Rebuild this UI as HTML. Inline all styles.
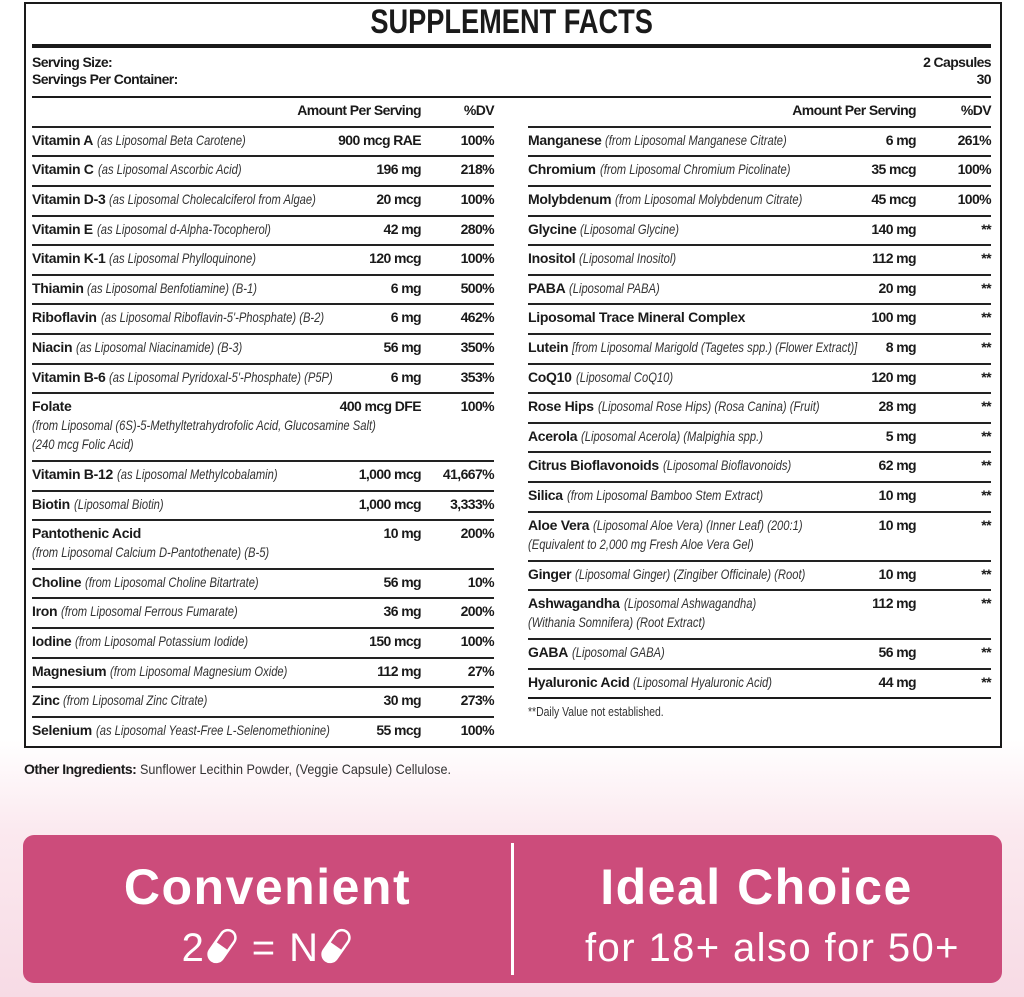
<!DOCTYPE html>
<html><head><meta charset="utf-8"><style>
*{margin:0;padding:0;box-sizing:border-box}
body{width:1024px;height:997px;position:relative;overflow:hidden;background:linear-gradient(to bottom,#fff 0px,#fff 740px,#fbe9ef 830px,#f7dbe5 997px);font-family:"Liberation Sans",sans-serif;color:#1a1a1a}
.box{position:absolute;left:24px;top:2px;width:978px;height:746px;border:2px solid #1a1a1a;background:#fff}
.t{position:absolute;left:0;width:1024px;top:3px;text-align:center;font-weight:bold;font-size:34px;}
.t span{display:inline-block;transform:scaleX(.8);}
.hl{position:absolute;left:32px;width:959px;background:#1a1a1a}
.s{position:absolute;font-size:14px;font-weight:bold;line-height:17px;letter-spacing:-0.6px}
.r{position:absolute;width:462px;border-top:2px solid #222;padding-top:3px;line-height:19px;font-size:14px;white-space:nowrap}
.L{left:32px}.R{left:528px;width:463px}
.r i{display:inline-block;vertical-align:top;font-style:italic;font-weight:normal;color:#333;transform:scaleX(.8);transform-origin:left top}
.r b{font-weight:bold;letter-spacing:-0.3px}
.a,.d{position:absolute;top:3px;font-weight:bold;letter-spacing:-0.6px}
.a{right:73px}.d{right:0}
.R .a{right:75px}
.ban{position:absolute;left:23px;top:835px;width:979px;height:148px;background:#cc4c7b;border-radius:11px;color:#fff;font-family:"Liberation Sans",sans-serif}
.vl{position:absolute;left:488px;top:8px;width:3px;height:132px;background:#fff}
.c1,.c2{position:absolute;width:489px;text-align:center}
.c1{left:0}.c2{left:489px}
.h{top:23px;font-size:50px;font-weight:bold;line-height:58px;letter-spacing:1.5px}
.sub{top:90px;font-size:40px;line-height:46px;letter-spacing:1.4px}
</style></head><body>
<div class="box"></div>
<div class="t"><span>SUPPLEMENT FACTS</span></div>
<div class="hl" style="top:44px;height:4px"></div>
<div class="s" style="left:32px;top:54px">Serving Size:<br>Servings Per Container:</div>
<div class="s" style="right:33px;top:54px;text-align:right">2 Capsules<br>30</div>
<div class="hl" style="top:96px;height:2px"></div>
<div class="s" style="left:32px;width:462px;top:102px;height:20px"><span style="position:absolute;right:73px">Amount Per Serving</span><span style="position:absolute;right:0">%DV</span></div>
<div class="s" style="left:528px;width:463px;top:102px;height:20px"><span style="position:absolute;right:75px">Amount Per Serving</span><span style="position:absolute;right:0">%DV</span></div>

<div class="r L" style="top:126px"><b>Vitamin A</b> <i>(as Liposomal Beta Carotene)</i><span class="a">900 mcg RAE</span><span class="d">100%</span></div>
<div class="r L" style="top:155px"><b>Vitamin C</b> <i>(as Liposomal Ascorbic Acid)</i><span class="a">196 mg</span><span class="d">218%</span></div>
<div class="r L" style="top:185px"><b>Vitamin D-3</b> <i>(as Liposomal Cholecalciferol from Algae)</i><span class="a">20 mcg</span><span class="d">100%</span></div>
<div class="r L" style="top:215px"><b>Vitamin E</b> <i>(as Liposomal d-Alpha-Tocopherol)</i><span class="a">42 mg</span><span class="d">280%</span></div>
<div class="r L" style="top:244px"><b>Vitamin K-1</b> <i>(as Liposomal Phylloquinone)</i><span class="a">120 mcg</span><span class="d">100%</span></div>
<div class="r L" style="top:274px"><b>Thiamin</b> <i>(as Liposomal Benfotiamine) (B-1)</i><span class="a">6 mg</span><span class="d">500%</span></div>
<div class="r L" style="top:303px"><b>Riboflavin</b> <i>(as Liposomal Riboflavin-5'-Phosphate) (B-2)</i><span class="a">6 mg</span><span class="d">462%</span></div>
<div class="r L" style="top:333px"><b>Niacin</b> <i>(as Liposomal Niacinamide) (B-3)</i><span class="a">56 mg</span><span class="d">350%</span></div>
<div class="r L" style="top:363px"><b>Vitamin B-6</b> <i>(as Liposomal Pyridoxal-5'-Phosphate) (P5P)</i><span class="a">6 mg</span><span class="d">353%</span></div>
<div class="r L" style="top:392px"><b>Folate</b><br><i>(from Liposomal (6S)-5-Methyltetrahydrofolic Acid, Glucosamine Salt)<br>(240 mcg Folic Acid)</i><span class="a">400 mcg DFE</span><span class="d">100%</span></div>
<div class="r L" style="top:460px"><b>Vitamin B-12</b> <i>(as Liposomal Methylcobalamin)</i><span class="a">1,000 mcg</span><span class="d">41,667%</span></div>
<div class="r L" style="top:490px"><b>Biotin</b> <i>(Liposomal Biotin)</i><span class="a">1,000 mcg</span><span class="d">3,333%</span></div>
<div class="r L" style="top:519px"><b>Pantothenic Acid</b><br><i>(from Liposomal Calcium D-Pantothenate) (B-5)</i><span class="a">10 mg</span><span class="d">200%</span></div>
<div class="r L" style="top:568px"><b>Choline</b> <i>(from Liposomal Choline Bitartrate)</i><span class="a">56 mg</span><span class="d">10%</span></div>
<div class="r L" style="top:597px"><b>Iron</b> <i>(from Liposomal Ferrous Fumarate)</i><span class="a">36 mg</span><span class="d">200%</span></div>
<div class="r L" style="top:627px"><b>Iodine</b> <i>(from Liposomal Potassium Iodide)</i><span class="a">150 mcg</span><span class="d">100%</span></div>
<div class="r L" style="top:657px"><b>Magnesium</b> <i>(from Liposomal Magnesium Oxide)</i><span class="a">112 mg</span><span class="d">27%</span></div>
<div class="r L" style="top:686px"><b>Zinc</b> <i>(from Liposomal Zinc Citrate)</i><span class="a">30 mg</span><span class="d">273%</span></div>
<div class="r L" style="top:716px"><b>Selenium</b> <i>(as Liposomal Yeast-Free L-Selenomethionine)</i><span class="a">55 mcg</span><span class="d">100%</span></div>

<div class="r R" style="top:126px"><b>Manganese</b> <i>(from Liposomal Manganese Citrate)</i><span class="a">6 mg</span><span class="d">261%</span></div>
<div class="r R" style="top:155px"><b>Chromium</b> <i>(from Liposomal Chromium Picolinate)</i><span class="a">35 mcg</span><span class="d">100%</span></div>
<div class="r R" style="top:185px"><b>Molybdenum</b> <i>(from Liposomal Molybdenum Citrate)</i><span class="a">45 mcg</span><span class="d">100%</span></div>
<div class="r R" style="top:215px"><b>Glycine</b> <i>(Liposomal Glycine)</i><span class="a">140 mg</span><span class="d">**</span></div>
<div class="r R" style="top:244px"><b>Inositol</b> <i>(Liposomal Inositol)</i><span class="a">112 mg</span><span class="d">**</span></div>
<div class="r R" style="top:274px"><b>PABA</b> <i>(Liposomal PABA)</i><span class="a">20 mg</span><span class="d">**</span></div>
<div class="r R" style="top:303px"><b>Liposomal Trace Mineral Complex</b><span class="a">100 mg</span><span class="d">**</span></div>
<div class="r R" style="top:333px"><b>Lutein</b> <i>[from Liposomal Marigold (Tagetes spp.) (Flower Extract)]</i><span class="a">8 mg</span><span class="d">**</span></div>
<div class="r R" style="top:363px"><b>CoQ10</b> <i>(Liposomal CoQ10)</i><span class="a">120 mg</span><span class="d">**</span></div>
<div class="r R" style="top:392px"><b>Rose Hips</b> <i>(Liposomal Rose Hips) (Rosa Canina) (Fruit)</i><span class="a">28 mg</span><span class="d">**</span></div>
<div class="r R" style="top:422px"><b>Acerola</b> <i>(Liposomal Acerola) (Malpighia spp.)</i><span class="a">5 mg</span><span class="d">**</span></div>
<div class="r R" style="top:451px"><b>Citrus Bioflavonoids</b> <i>(Liposomal Bioflavonoids)</i><span class="a">62 mg</span><span class="d">**</span></div>
<div class="r R" style="top:481px"><b>Silica</b> <i>(from Liposomal Bamboo Stem Extract)</i><span class="a">10 mg</span><span class="d">**</span></div>
<div class="r R" style="top:511px"><b>Aloe Vera</b> <i>(Liposomal Aloe Vera) (Inner Leaf) (200:1)</i><br><i>(Equivalent to 2,000 mg Fresh Aloe Vera Gel)</i><span class="a">10 mg</span><span class="d">**</span></div>
<div class="r R" style="top:560px"><b>Ginger</b> <i>(Liposomal Ginger) (Zingiber Officinale) (Root)</i><span class="a">10 mg</span><span class="d">**</span></div>
<div class="r R" style="top:589px"><b>Ashwagandha</b> <i>(Liposomal Ashwagandha)</i><br><i>(Withania Somnifera) (Root Extract)</i><span class="a">112 mg</span><span class="d">**</span></div>
<div class="r R" style="top:638px"><b>GABA</b> <i>(Liposomal GABA)</i><span class="a">56 mg</span><span class="d">**</span></div>
<div class="r R" style="top:668px"><b>Hyaluronic Acid</b> <i>(Liposomal Hyaluronic Acid)</i><span class="a">44 mg</span><span class="d">**</span></div>
<div class="r R" style="top:697px;font-size:13px;border-top-color:transparent"><i style="font-style:normal">**Daily Value not established.</i></div>
<div class="hl" style="left:528px;width:463px;top:697px;height:2px"></div>

<div style="position:absolute;left:24px;top:760px;font-size:14px;line-height:18px;white-space:nowrap"><b style="letter-spacing:-0.5px">Other Ingredients:</b> <span style="color:#333;display:inline-block;transform:scaleX(.9);transform-origin:left">Sunflower Lecithin Powder, (Veggie Capsule) Cellulose.</span></div>

<div class="ban">
<div class="vl"></div>
<div class="c1 h">Convenient</div>
<div class="c1 sub">2<svg width="34" height="38" viewBox="0 0 26 30" style="vertical-align:-4px"><g transform="rotate(35 13 15)"><rect x="7" y="1" width="12" height="28" rx="6" fill="none" stroke="#fff" stroke-width="2"/><path d="M7 15 H19 V23 A6 6 0 0 1 7 23 Z" fill="#fff"/></g></svg> = N<svg width="34" height="38" viewBox="0 0 26 30" style="vertical-align:-4px"><g transform="rotate(35 13 15)"><rect x="7" y="1" width="12" height="28" rx="6" fill="none" stroke="#fff" stroke-width="2"/><path d="M7 15 H19 V23 A6 6 0 0 1 7 23 Z" fill="#fff"/></g></svg></div>
<div class="c2 h">Ideal Choice</div>
<div class="c2 sub" style="left:505px">for 18+ also for 50+</div>
</div>
</body></html>
